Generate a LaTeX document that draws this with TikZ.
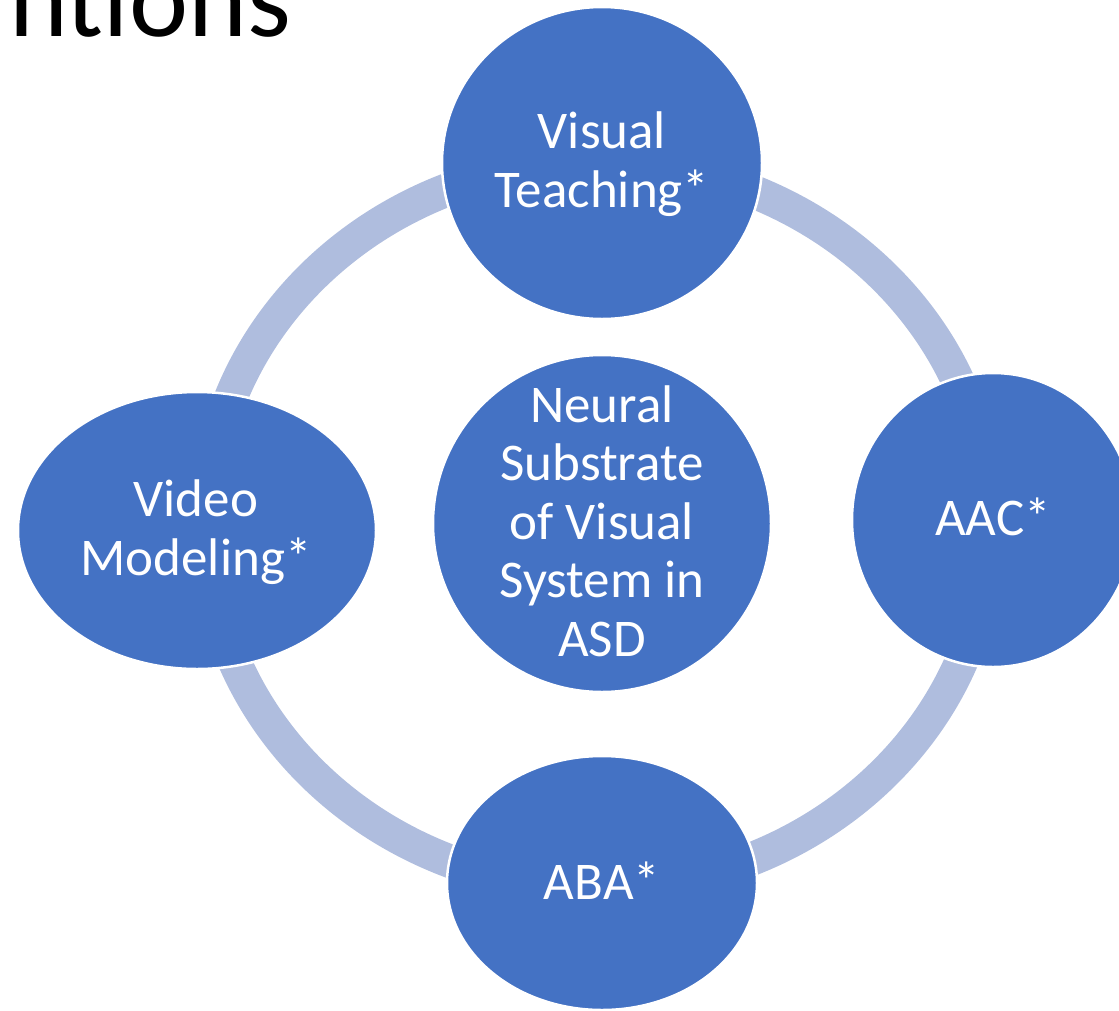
\documentclass[tikz,border=0pt]{standalone}
\usepackage{fontspec}
\setmainfont{Carlito}
\usetikzlibrary{shapes.geometric}
\definecolor{nodeblue}{RGB}{68,114,196}
\definecolor{ringblue}{RGB}{175,189,222}
\begin{document}
\begin{tikzpicture}[x=1pt,y=-1pt,
  bubble/.style={ellipse, fill=nodeblue, draw=white, line width=2.5pt, inner sep=0pt},
  bubbletext/.style={text=white, align=center, font=\fontsize{53}{58.5}\selectfont, anchor=base, inner sep=0pt}]
\useasboundingbox (0,0) rectangle (1119,1010);
\clip (0,0) rectangle (1119,1010);
\node[anchor=base west, inner sep=0pt, font=\fontsize{112}{112}\selectfont] (title) at (9,36) {ntions};
\draw[ringblue, line width=33.5pt] (598,525) ellipse [x radius=392pt, y radius=363pt];
\node[bubble, minimum width=320pt, minimum height=312pt] (vt) at (602,163) {};
\node[bubble, minimum width=358pt, minimum height=277pt] (vm) at (197,530.5) {};
\node[bubble, minimum width=338pt, minimum height=337pt] (ctr) at (602,523.5) {};
\node[bubble, minimum width=282pt, minimum height=294pt] (aac) at (993,520) {};
\node[bubble, minimum width=310pt, minimum height=254pt] (aba) at (602,883) {};
\node[bubbletext] (vtT) at (602,207) {Visual\\Teaching*};
\node[bubbletext] (vmT) at (196,575) {Video\\Modeling*};
\node[bubbletext] (ctrT) at (602,656) {Neural\\Substrate\\of Visual\\System in\\ASD};
\node[bubbletext] (aacT) at (993,535) {AAC*};
\node[bubbletext] (abaT) at (602,899) {ABA*};
\end{tikzpicture}
\end{document}
